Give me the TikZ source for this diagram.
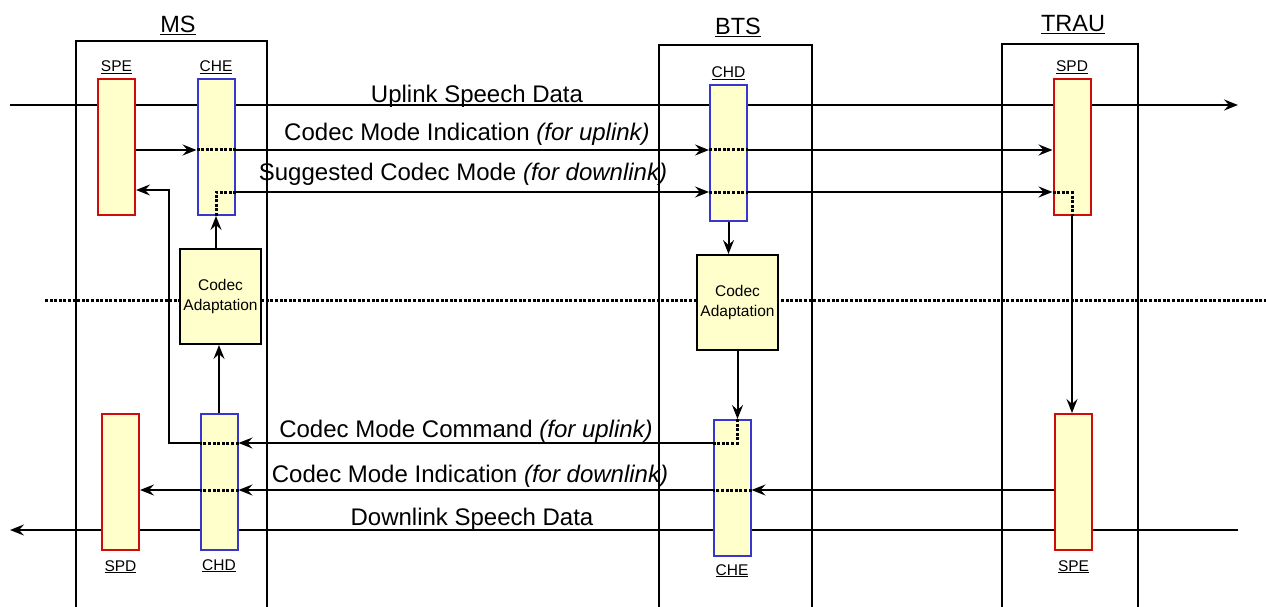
\documentclass[tikz,border=0pt]{standalone}
\usepackage{fontspec}
\setmainfont{Liberation Sans}
\usepackage{xcolor}
\usetikzlibrary{arrows.meta,positioning,calc}

\definecolor{boxfill}{RGB}{255,255,204}
\definecolor{spred}{RGB}{210,10,10}
\definecolor{chblue}{RGB}{55,55,205}

\begin{document}
\begin{tikzpicture}[x=1pt, y=-1pt,
  spbox/.style={draw=spred, fill=boxfill, line width=2pt, minimum width=37pt, minimum height=136pt, inner sep=0pt},
  chbox/.style={spbox, draw=chblue},
  cabox/.style={draw, fill=boxfill, line width=2pt, minimum width=81pt, minimum height=95pt, inner sep=0pt, align=center, font=\fontsize{15.5}{20}\selectfont},
  frame/.style={line width=2pt},
  conn/.style={line width=2pt},
  arr/.style={conn, -{Stealth[length=14pt, width=11pt, inset=5pt]}},
  thru/.style={line width=3pt, dash pattern=on 3pt off 1.6pt},
  tag/.style={font=\fontsize{15.5}{18}\selectfont, inner sep=0pt},
  title/.style={font=\fontsize{23.5}{28}\selectfont, anchor=base, inner sep=0pt},
  msg/.style={font=\fontsize{24}{28}\selectfont, anchor=base, inner sep=0pt},
]

\useasboundingbox (0,0) rectangle (1266,607);

% Rows and free ends
\coordinate (uprow) at (0,105);
\coordinate (cmirow) at (0,150);
\coordinate (fbrow) at (0,190);
\coordinate (scmrow) at (0,192);
\coordinate (cmcrow) at (0,443);
\coordinate (cmidrow) at (0,490);
\coordinate (fbcol) at (169,0);
\coordinate (upin) at (10,105);
\coordinate (upout) at (1238,105);
\coordinate (dnin) at (1238,530);
\coordinate (dnout) at (10,530);
\coordinate (midl) at (45,300);
\coordinate (midr) at (1266,300);

% Entities
\draw[frame] (76,620) |- (267,41) -- (267,620);
\draw[frame] (659,620) |- (812,45) -- (812,620);
\draw[frame] (1002,620) |- (1138,44) -- (1138,620);
\node[title] (mstitle) at (178,33) {\underline{MS}};
\node[title] (btstitle) at (738,35) {\underline{BTS}};
\node[title] (trautitle) at (1073,32) {\underline{TRAU}};

% Lines passing behind the blocks
\draw[thru] (midl) -- (midr);
\draw[arr] (upin) -- (upout);
\draw[arr] (dnin) -- (dnout);

% Blocks
\node[spbox] (msspe) at (116.5,147) {};
\node[chbox] (msche) at (216,147) {};
\node[chbox] (btschd) at (728.5,153) {};
\node[spbox] (trauspd) at (1072,147) {};
\node[spbox] (msspd) at (120.5,482) {};
\node[chbox] (mschd) at (219,482) {};
\node[chbox] (btsche) at (732,488) {};
\node[spbox] (trauspe) at (1073.5,482) {};
\node[cabox] (msca) at (220.5,296.5) {Codec\\Adaptation};
\node[cabox] (btsca) at (737.5,302.5) {Codec\\Adaptation};

\node[tag, above=4pt of msspe] (msspetag) {\underline{SPE}};
\node[tag, above=4pt of msche] (mschetag) {\underline{CHE}};
\node[tag, above=4pt of btschd] (btschdtag) {\underline{CHD}};
\node[tag, above=4pt of trauspd] (trauspdtag) {\underline{SPD}};
\node[tag, below=9pt of msspd] (msspdtag) {\underline{SPD}};
\node[tag, below=8pt of mschd] (mschdtag) {\underline{CHD}};
\node[tag, below=7pt of btsche] (btschetag) {\underline{CHE}};
\node[tag, below=9pt of trauspe] (trauspetag) {\underline{SPE}};

% Message labels
\node[msg] (uplbl) at (477,103) {Uplink Speech Data};
\node[msg] (cmiuplbl) at (467,140) {Codec Mode Indication \textit{(for uplink)}};
\node[msg] (scmlbl) at (463,180) {Suggested Codec Mode \textit{(for downlink)}};
\node[msg] (cmclbl) at (466,437) {Codec Mode Command \textit{(for uplink)}};
\node[msg] (cmidnlbl) at (470,482) {Codec Mode Indication \textit{(for downlink)}};
\node[msg] (dnlbl) at (472,525) {Downlink Speech Data};

% Codec Mode Indication (uplink)
\draw[arr] (msspe.east |- cmirow) -- (msche.west |- cmirow);
\draw[thru] (msche.west |- cmirow) -- (msche.east |- cmirow);
\draw[arr] (msche.east |- cmirow) -- (btschd.west |- cmirow);
\draw[thru] (btschd.west |- cmirow) -- (btschd.east |- cmirow);
\draw[arr] (btschd.east |- cmirow) -- (trauspd.west |- cmirow);

% Suggested Codec Mode
\draw[arr] (msca.north -| msche.south) -- (msche.south);
\draw[thru] (msche.south) |- (msche.east |- scmrow);
\draw[arr] (msche.east |- scmrow) -- (btschd.west |- scmrow);
\draw[thru] (btschd.west |- scmrow) -- (btschd.east |- scmrow);
\draw[arr] (btschd.east |- scmrow) -- (trauspd.west |- scmrow);
\draw[thru] (trauspd.west |- scmrow) -| (trauspd.south);
\draw[arr] (trauspd.south) -- (trauspd.south |- trauspe.north);

% Codec Mode Command
\draw[arr] (mschd.north) -- (mschd.north |- msca.south);
\draw[arr] (btschd.south) -- (btschd.south |- btsca.north);
\draw[arr] (btsca.south) -- (btsca.south |- btsche.north);
\draw[thru] (btsca.south |- btsche.north) |- (btsche.west |- cmcrow);
\draw[arr] (btsche.west |- cmcrow) -- (mschd.east |- cmcrow);
\draw[thru] (mschd.east |- cmcrow) -- (mschd.west |- cmcrow);
\draw[arr] (mschd.west |- cmcrow) -| (fbcol |- fbrow) -- (msspe.east |- fbrow);

% Codec Mode Indication (downlink)
\draw[arr] (trauspe.west |- cmidrow) -- (btsche.east |- cmidrow);
\draw[thru] (btsche.east |- cmidrow) -- (btsche.west |- cmidrow);
\draw[arr] (btsche.west |- cmidrow) -- (mschd.east |- cmidrow);
\draw[thru] (mschd.east |- cmidrow) -- (mschd.west |- cmidrow);
\draw[arr] (mschd.west |- cmidrow) -- (msspd.east |- cmidrow);

\end{tikzpicture}
\end{document}
